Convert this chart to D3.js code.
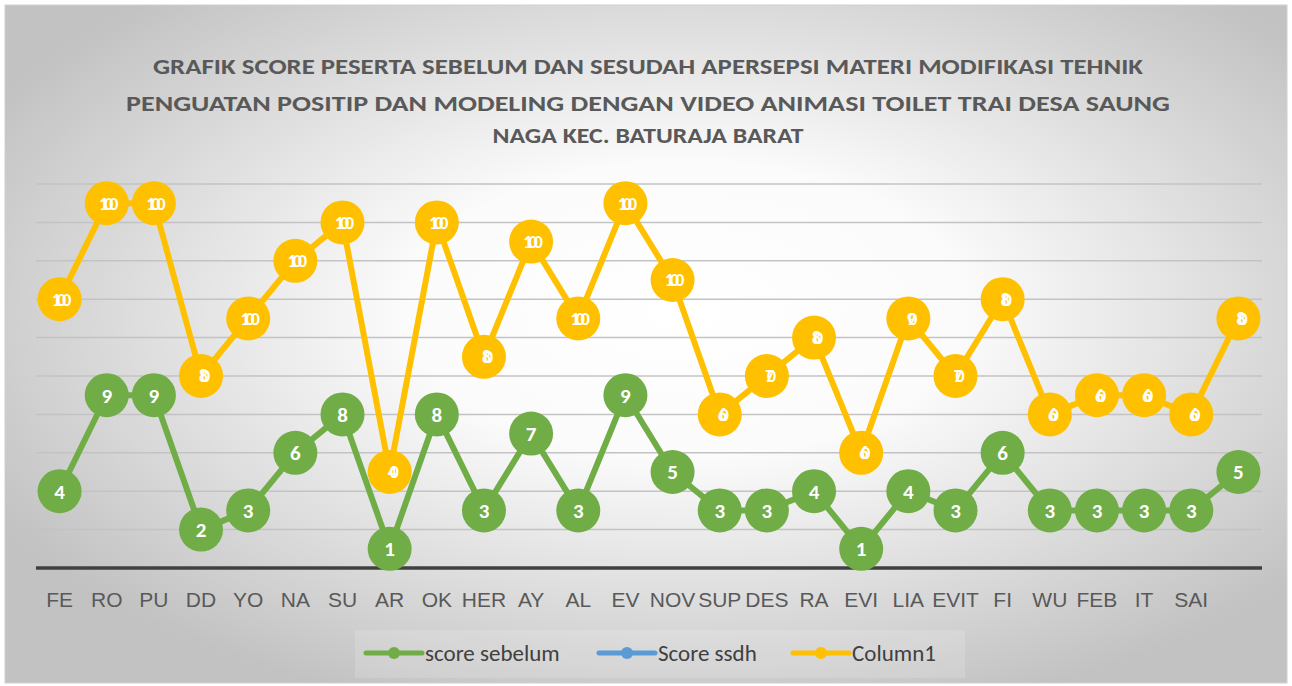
<!DOCTYPE html>
<html>
<head>
<meta charset="utf-8">
<script src="https://cdn.jsdelivr.net/npm/d3@7"></script>
<style>
  html, body { margin: 0; padding: 0; background: #fff; }
  svg { display: block; font-family: Carlito, 'Liberation Sans Narrow', 'Open Sans', sans-serif; }
  .x.axis .domain { display: none; }
  .x.axis line { display: none; }
  .x.axis text { fill: #595959; font-size: 21px; }
</style>
</head>
<body>
<script>
var width = 1292;
var height = 686;

var titleLines = [
  'GRAFIK SCORE PESERTA SEBELUM DAN SESUDAH APERSEPSI MATERI MODIFIKASI TEHNIK',
  'PENGUATAN POSITIP DAN MODELING DENGAN VIDEO ANIMASI TOILET  TRAI DESA SAUNG',
  'NAGA KEC. BATURAJA BARAT'
];
var titleWidths = [990, 1044, 311];

var categories = ['FE', 'RO', 'PU', 'DD', 'YO', 'NA', 'SU', 'AR', 'OK', 'HER', 'AY', 'AL', 'EV',
  'NOV', 'SUP', 'DES', 'RA', 'EVI', 'LIA', 'EVIT', 'FI', 'WU', 'FEB', 'IT', 'SAI', ''];

var scoreSebelum = [4, 9, 9, 2, 3, 6, 8, 1, 8, 3, 7, 3, 9, 5, 3, 3, 4, 1, 4, 3, 6, 3, 3, 3, 3, 5];

var column1 = [14, 19, 19, 10, 13, 16, 18, 5, 18, 11, 17, 13, 19, 15, 8, 10, 12, 6, 13, 10, 14, 8, 9, 9, 8, 13];
var column1Labels = ['100', '100', '100', '80', '100', '100', '100', '40', '100', '80', '100', '100', '100',
  '100', '60', '70', '80', '60', '90', '70', '80', '60', '60', '60', '60', '80'];

var yTicks = [2, 4, 6, 8, 10, 12, 14, 16, 18, 20];

var series = [
  { name: 'score sebelum', color: '#70ad47' },
  { name: 'Score ssdh', color: '#5b9bd5' },
  { name: 'Column1', color: '#ffc000' }
];

var svg = d3.select('body')
  .append('svg')
  .attr('width', width)
  .attr('height', height);

// background
var grad = svg.append('defs')
  .append('radialGradient')
  .attr('id', 'bg')
  .attr('cx', '0.53')
  .attr('cy', '0.45')
  .attr('r', '0.62');
grad.append('stop').attr('offset', '0%').attr('stop-color', '#ffffff');
grad.append('stop').attr('offset', '35%').attr('stop-color', '#fbfbfb');
grad.append('stop').attr('offset', '100%').attr('stop-color', '#c2c2c2');

svg.append('rect')
  .attr('x', 5)
  .attr('y', 5)
  .attr('width', width - 10)
  .attr('height', height - 8)
  .attr('fill', 'url(#bg)')
  .attr('stroke', '#d0d0d0');

// title
svg.append('g')
  .selectAll('text')
  .data(titleLines)
  .join('text')
  .attr('x', 648)
  .attr('y', (d, i) => [74, 111, 143][i])
  .attr('text-anchor', 'middle')
  .attr('fill', '#595959')
  .attr('font-weight', 'bold')
  .attr('font-size', 23)
  .attr('textLength', (d, i) => titleWidths[i])
  .attr('lengthAdjust', 'spacingAndGlyphs')
  .text(d => d);

// scales
var xScale = d3.scaleBand()
  .domain(d3.range(categories.length))
  .range([36, 1262]);

var yScale = d3.scaleLinear()
  .domain([0, 20])
  .range([568, 184]);

var cx = i => xScale(i) + xScale.bandwidth() / 2;

// gridlines
svg.append('g')
  .selectAll('line')
  .data(yTicks)
  .join('line')
  .attr('x1', 36)
  .attr('x2', 1262)
  .attr('y1', d => yScale(d))
  .attr('y2', d => yScale(d))
  .attr('stroke', '#c3c3c3')
  .attr('stroke-width', 1.5);

// x axis
svg.append('line')
  .attr('x1', 36)
  .attr('x2', 1262)
  .attr('y1', yScale(0))
  .attr('y2', yScale(0))
  .attr('stroke', '#404040')
  .attr('stroke-width', 3.5);

var xAxis = svg.append('g')
  .attr('class', 'x axis')
  .attr('transform', `translate(0, ${yScale(0)})`)
  .call(d3.axisBottom(xScale).tickSize(0).tickPadding(24).tickFormat(i => categories[i]));
xAxis.selectAll('.tick').filter(i => categories[i] === '').remove();

function drawSeries(values, labels, color, fontSize) {
  var line = d3.line()
    .x((d, i) => cx(i))
    .y(d => yScale(d));

  var g = svg.append('g');
  g.append('path')
    .datum(values)
    .attr('d', line)
    .attr('fill', 'none')
    .attr('stroke', color)
    .attr('stroke-width', 6)
    .attr('stroke-linejoin', 'round');

  g.selectAll('circle')
    .data(values)
    .join('circle')
    .attr('cx', (d, i) => cx(i))
    .attr('cy', d => yScale(d))
    .attr('r', 22)
    .attr('fill', color);

  // excel squeezes the digits of these labels together
  g.selectAll('text')
    .data(values)
    .join('text')
    .attr('x', (d, i) => cx(i))
    .attr('y', d => yScale(d) + fontSize * 0.35)
    .attr('text-anchor', 'middle')
    .attr('fill', '#fff')
    .attr('font-weight', 'bold')
    .attr('font-size', fontSize)
    .attr('letter-spacing', (d, i) => {
      var t = labels[i];
      if (t.length === 3) return '-0.22em';
      if (t.length === 2) return '-0.4em';
      return 0;
    })
    .text((d, i) => labels[i]);
}

drawSeries(scoreSebelum, scoreSebelum.map(String), series[0].color, 21);
drawSeries(column1, column1Labels, series[2].color, 18);

// legend
var legend = svg.append('g');
legend.append('rect')
  .attr('x', 355)
  .attr('y', 630)
  .attr('width', 610)
  .attr('height', 48)
  .attr('fill', '#ffffff')
  .attr('opacity', 0.15);

var legendX = [366, 599, 793];
var item = legend.selectAll('g')
  .data(series)
  .join('g')
  .attr('transform', (d, i) => `translate(${legendX[i]}, 653)`);

item.append('line')
  .attr('x1', 0)
  .attr('x2', 56)
  .attr('stroke', d => d.color)
  .attr('stroke-width', 5)
  .attr('stroke-linecap', 'round');

item.append('circle')
  .attr('cx', 28)
  .attr('r', 6)
  .attr('fill', d => d.color);

item.append('text')
  .attr('x', 59)
  .attr('y', 8)
  .attr('fill', '#404040')
  .attr('font-size', 23)
  .text(d => d.name);
</script>
</body>
</html>
